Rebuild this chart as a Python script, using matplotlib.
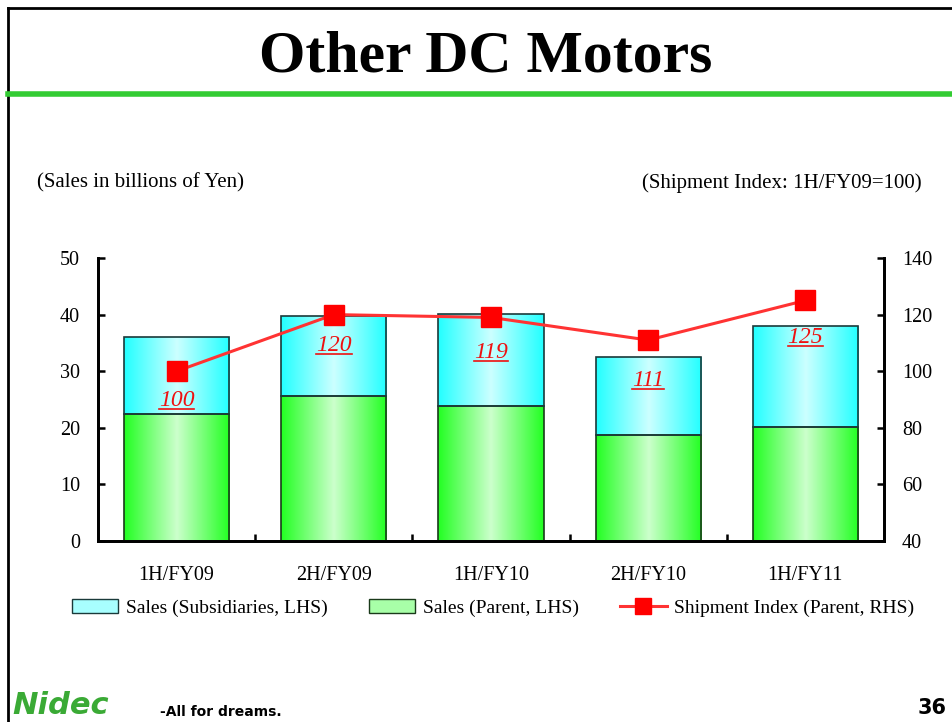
import numpy as np
import matplotlib
matplotlib.use("Agg")
import matplotlib.pyplot as plt
from matplotlib.colors import LinearSegmentedColormap
from matplotlib.patches import Patch
from matplotlib.lines import Line2D

plt.rcParams['font.family'] = ['Liberation Serif', 'DejaVu Serif']

# data
periods = ['1H/FY09', '2H/FY09', '1H/FY10', '2H/FY10', '1H/FY11']
sales_parent = [22.4, 25.6, 23.8, 18.7, 20.1]
sales_subs = [13.6, 14.2, 16.3, 13.8, 17.9]
shipment_index = [100, 120, 119, 111, 125]

# vertical offsets (pixels) of the index labels below their markers
label_drop = [-29, -31, -35, -40, -37]

W, H = 952, 722
fig = plt.figure(figsize=(W / 100, H / 100), dpi=100)

def fx(px):
    return px / W

def fy(py):
    return 1 - py / H

# slide decoration
fig.add_artist(Line2D([fx(8), fx(8)], [fy(8), 0], color='black', lw=2))
fig.add_artist(Line2D([fx(8), 1], [fy(8), fy(8)], color='black', lw=2))
fig.add_artist(Line2D([fx(8), 1], [fy(94), fy(94)], color='#33CC33', lw=4))
fig.text(fx(486), fy(58), 'Other DC Motors', ha='center', va='center',
         fontsize=43, fontweight='bold')
fig.text(fx(37), fy(183), '(Sales in billions of Yen)', ha='left', va='center', fontsize=15)
fig.text(fx(922), fy(183), '(Shipment Index: 1H/FY09=100)', ha='right', va='center', fontsize=15)
fig.text(fx(12), fy(706), 'Nidec', ha='left', va='center', fontsize=22,
         fontweight='bold', style='italic', color='#3AAA35', family='DejaVu Sans')
fig.text(fx(160), fy(712), '-All for dreams.', ha='left', va='center', fontsize=10,
         fontweight='bold', family='DejaVu Sans')
fig.text(fx(918), fy(708), '36', ha='left', va='center', fontsize=15,
         fontweight='bold', family='DejaVu Sans')

ax = fig.add_axes([fx(98), fy(541), fx(884) - fx(98), fy(258) - fy(541)])
ax2 = ax.twinx()

x = np.arange(len(periods))
bw = 0.67

cyan_cm = LinearSegmentedColormap.from_list('cy', ['#22FFFF', '#CCFFFF', '#22FFFF'])
green_cm = LinearSegmentedColormap.from_list('gr', ['#22FF22', '#CCFFCC', '#22FF22'])
grad = np.linspace(0, 1, 256).reshape(1, -1)

def gradient_bars(bars, cmap):
    for b in bars:
        x0, y0 = b.get_x(), b.get_y()
        im = ax.imshow(grad, cmap=cmap, aspect='auto', zorder=2,
                       extent=[x0, x0 + b.get_width(), y0, y0 + b.get_height()])
        im.set_clip_path(b)

b1 = ax.bar(x, sales_parent, bw, facecolor='none', edgecolor='#1a3a1a', lw=1.2, zorder=3)
b2 = ax.bar(x, sales_subs, bw, bottom=sales_parent, facecolor='none',
            edgecolor='#1a3a3a', lw=1.2, zorder=3)
gradient_bars(b1, green_cm)
gradient_bars(b2, cyan_cm)

ax.set_xlim(-0.5, len(periods) - 0.5)
ax.set_ylim(0, 50)
ax.set_yticks(range(0, 51, 10))
ax.set_xticks(x)
ax.set_xticklabels(periods)
ax.set_xticks(np.arange(0.5, len(periods) - 1, 1), minor=True)
ax.tick_params(axis='x', which='major', length=0, labelsize=14.5, pad=18)
ax.tick_params(axis='x', which='minor', direction='in', length=5, width=1.8)
ax.tick_params(axis='y', direction='in', length=5, width=1.8, labelsize=14.5, pad=13)

ax2.plot(x, shipment_index, color='#FF3333', lw=2.2, marker='s', markersize=14,
         markerfacecolor='red', markeredgecolor='red', zorder=5)
labels = []
for xi, v, d in zip(x, shipment_index, label_drop):
    t = ax2.annotate(str(v), (xi, v), xytext=(0, d),
                     textcoords='offset pixels', ha='center', va='center',
                     color='#EE1111', fontsize=17, style='italic')
    labels.append(t)
ax2.set_ylim(40, 140)
ax2.set_yticks(range(40, 141, 20))
ax2.tick_params(axis='y', direction='in', length=5, width=1.8, labelsize=14.5, pad=13)
ax2.set_zorder(ax.get_zorder() + 1)

for a in (ax, ax2):
    a.spines['top'].set_visible(False)
    for s in ('left', 'right', 'bottom'):
        a.spines[s].set_linewidth(2)

handles = [
    Patch(facecolor='#A8FFFF', edgecolor='#1a3a3a', label='Sales (Subsidiaries, LHS)'),
    Patch(facecolor='#A8FFA8', edgecolor='#1a3a1a', label='Sales (Parent, LHS)'),
    Line2D([], [], color='#FF3333', lw=2.2, marker='s', markersize=12,
           markerfacecolor='red', markeredgecolor='red', label='Shipment Index (Parent, RHS)'),
]
fig.legend(handles=handles, loc='center', bbox_to_anchor=(fx(493), fy(608)), ncol=3,
           frameon=False, fontsize=14, handlelength=2.4, handleheight=0.7,
           columnspacing=2.1, handletextpad=0.4)

# underline the index labels
fig.canvas.draw()
r = fig.canvas.get_renderer()
for t in labels:
    bb = t.get_window_extent(r)
    yy = (bb.y0 + 2) / H
    fig.add_artist(Line2D([bb.x0 / W, bb.x1 / W], [yy, yy], color='#EE1111', lw=1.2))

fig.savefig('out.png', dpi=100)
